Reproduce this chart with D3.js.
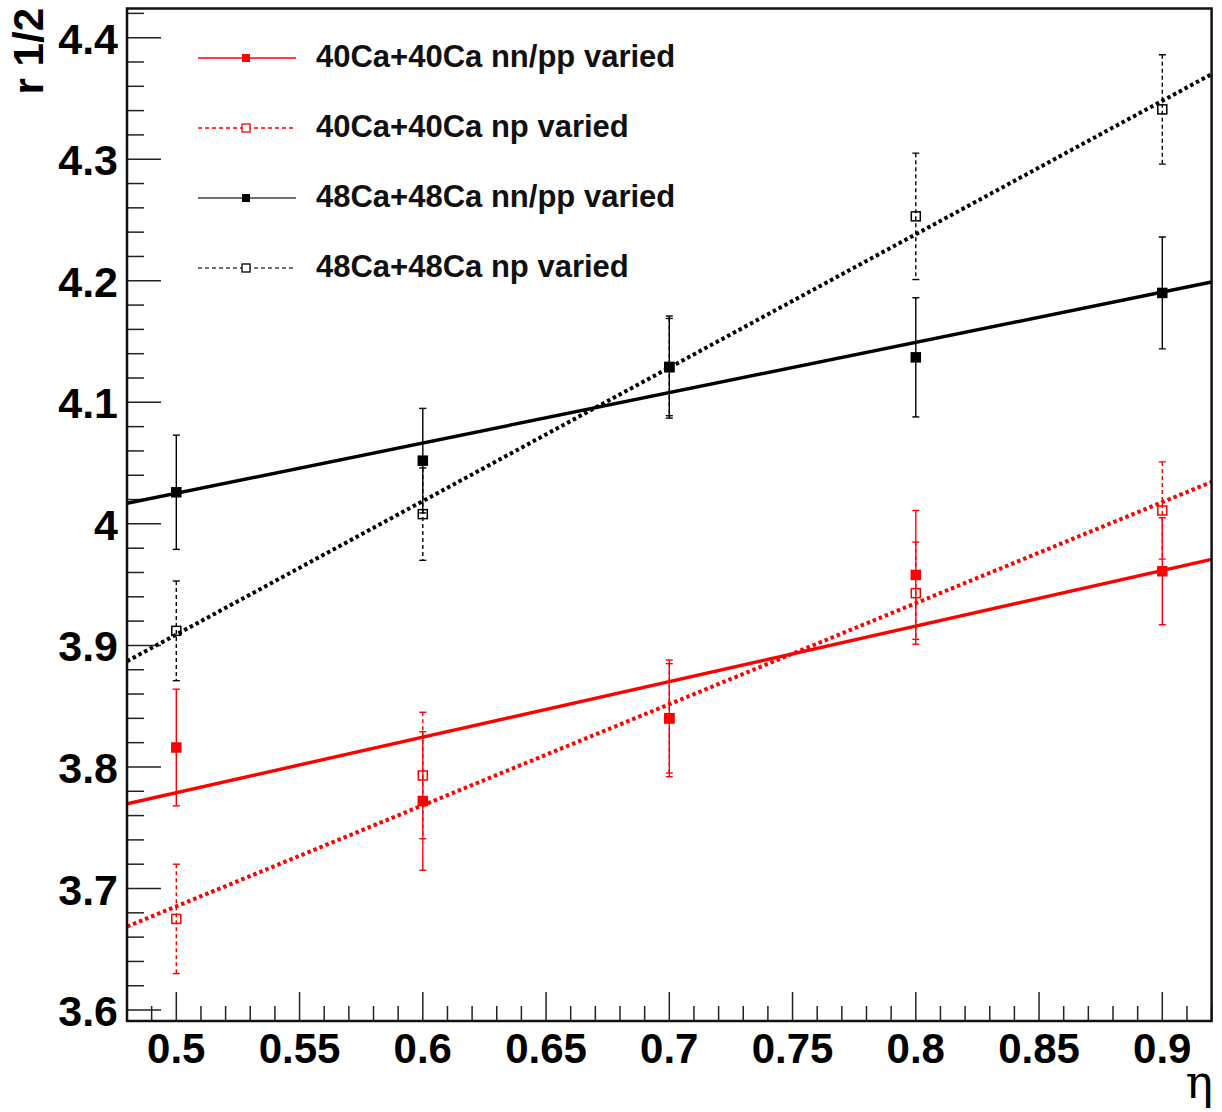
<!DOCTYPE html>
<html>
<head>
<meta charset="utf-8">
<script src="https://cdn.jsdelivr.net/npm/d3@7"></script>
<style>
  html, body { margin: 0; padding: 0; background: #fff; }
  svg { display: block; }
</style>
</head>
<body>
<svg id="chart" width="1222" height="1112"></svg>
<script>
// ---------- data ----------
const eta = [0.5, 0.6, 0.7, 0.8, 0.9];

const ca40NNPP    = [3.816, 3.772, 3.840, 3.958, 3.961];
const ca40NNPPErr = [0.048, 0.057, 0.048, 0.053, 0.044];

const ca40NP      = [3.675, 3.793, 3.840, 3.943, 4.011];
const ca40NPErr   = [0.045, 0.052, 0.045, 0.042, 0.040];

const ca48NNPP    = [4.026, 4.052, 4.129, 4.137, 4.190];
const ca48NNPPErr = [0.047, 0.043, 0.042, 0.049, 0.046];

const ca48NP      = [3.912, 4.008, 4.129, 4.253, 4.341];
const ca48NPErr   = [0.041, 0.038, 0.040, 0.052, 0.045];

// linear fit lines: value at eta = 0.48 and eta = 0.92
const fitEta      = [0.48, 0.92];
const ca40NNPPFit = [3.7697, 3.9708];
const ca40NPFit   = [3.6687, 4.0345];
const ca48NNPPFit = [4.0169, 4.1990];
const ca48NPFit   = [3.8870, 4.3700];

const seriesNames = ["40Ca+40Ca nn/pp varied", "40Ca+40Ca np varied",
                     "48Ca+48Ca nn/pp varied", "48Ca+48Ca np varied"];

const xTicks = [0.5, 0.55, 0.6, 0.65, 0.7, 0.75, 0.8, 0.85, 0.9];
const yTicks = [3.6, 3.7, 3.8, 3.9, 4.0, 4.1, 4.2, 4.3, 4.4];
const yTickLabels = ["3.6", "3.7", "3.8", "3.9", "4", "4.1", "4.2", "4.3", "4.4"];

// ---------- layout ----------
const svg = d3.select("#chart");
const L = 127, R = 1211.6, T = 8.5, B = 1021;
const x = d3.scaleLinear().domain([0.48, 0.92]).range([L, R]);
const y = d3.scaleLinear().domain([3.591, 4.424]).range([B, T]);

const series = [
  { name: seriesNames[0], v: ca40NNPP, e: ca40NNPPErr, fit: ca40NNPPFit, color: "#ff0000", open: false, dashed: false },
  { name: seriesNames[1], v: ca40NP,   e: ca40NPErr,   fit: ca40NPFit,   color: "#ff0000", open: true,  dashed: true  },
  { name: seriesNames[2], v: ca48NNPP, e: ca48NNPPErr, fit: ca48NNPPFit, color: "#000000", open: false, dashed: false },
  { name: seriesNames[3], v: ca48NP,   e: ca48NPErr,   fit: ca48NPFit,   color: "#000000", open: true,  dashed: true  }
];

const font = "'Liberation Sans', Arial, Helvetica, sans-serif";

svg.append("defs").append("clipPath").attr("id", "clip")
  .append("rect").attr("x", L).attr("y", T).attr("width", R - L).attr("height", B - T);

// ---------- axes ticks ----------
const tickColor = "#222";
const g = svg.append("g");

// x ticks
const xMinor = d3.range(48, 93).map(d => d / 100);
g.selectAll("line.xt").data(xMinor).enter().append("line")
  .attr("x1", d => x(d)).attr("x2", d => x(d))
  .attr("y1", B)
  .attr("y2", d => (Math.round(d * 100) % 5 === 0) ? B - 29 : B - 15)
  .attr("stroke", tickColor).attr("stroke-width", 1.5);

// y ticks
const yMinor = d3.range(180, 222).map(d => d / 50).filter(d => d >= 3.591 && d <= 4.424);
g.selectAll("line.yt").data(yMinor).enter().append("line")
  .attr("y1", d => y(d)).attr("y2", d => y(d))
  .attr("x1", L)
  .attr("x2", d => (Math.round(d * 50) % 5 === 0) ? L + 34 : L + 17)
  .attr("stroke", tickColor).attr("stroke-width", 1.5);

// x labels
g.selectAll("text.xl").data(xTicks).enter().append("text")
  .attr("x", d => x(d)).attr("y", 1063)
  .attr("text-anchor", "middle")
  .attr("font-family", font).attr("font-weight", "bold").attr("font-size", 42)
  .text(d => d3.format("")(d));

// y labels
g.selectAll("text.yl").data(yTicks).enter().append("text")
  .attr("x", 118).attr("y", d => y(d) + 16)
  .attr("text-anchor", "end")
  .attr("font-family", font).attr("font-weight", "bold").attr("font-size", 43)
  .text((d, i) => yTickLabels[i]);

// axis titles
svg.append("text")
  .attr("transform", "translate(43,8) rotate(-90)")
  .attr("text-anchor", "end")
  .attr("font-family", font).attr("font-weight", "bold").attr("font-size", 42)
  .text("r 1/2");

svg.append("text")
  .attr("x", 1213).attr("y", 1098)
  .attr("text-anchor", "end")
  .attr("font-family", "'DejaVu Serif', 'Liberation Serif', serif").attr("font-size", 46)
  .text("η");

// ---------- plot ----------
const plot = svg.append("g").attr("clip-path", "url(#clip)");
const ms = 10.5;

series.forEach(s => {
  // error bars
  const eg = plot.append("g");
  eta.forEach((xv, i) => {
    const x0 = x(xv), yt = y(s.v[i] + s.e[i]), yb = y(s.v[i] - s.e[i]);
    eg.append("line").attr("x1", x0).attr("x2", x0).attr("y1", yt).attr("y2", yb)
      .attr("stroke", s.color).attr("stroke-width", 1.4)
      .attr("stroke-dasharray", s.dashed ? "4,3" : null);
    [yt, yb].forEach(yy => eg.append("line")
      .attr("x1", x0 - 3.5).attr("x2", x0 + 3.5).attr("y1", yy).attr("y2", yy)
      .attr("stroke", s.color).attr("stroke-width", 1.4));
  });
});

series.forEach(s => {
  // fit line
  const line = d3.line().x(d => x(d[0])).y(d => y(d[1]));
  plot.append("path")
    .datum(fitEta.map((e, i) => [e, s.fit[i]]))
    .attr("d", line)
    .attr("fill", "none")
    .attr("stroke", s.color)
    .attr("stroke-width", s.dashed ? 4 : 3.4)
    .attr("stroke-dasharray", s.dashed ? "3.5,3" : null);
});

series.forEach(s => {
  // markers
  plot.append("g").selectAll("rect").data(eta).enter().append("rect")
    .attr("x", d => x(d) - ms / 2 + (s.open ? 0.75 : 0))
    .attr("y", (d, i) => y(s.v[i]) - ms / 2 + (s.open ? 0.75 : 0))
    .attr("width", s.open ? ms - 1.5 : ms)
    .attr("height", s.open ? ms - 1.5 : ms)
    .attr("fill", s.open ? "none" : s.color)
    .attr("stroke", s.open ? s.color : "none")
    .attr("stroke-width", 1.5);
});

// frame
svg.append("rect").attr("x", L).attr("y", T).attr("width", R - L).attr("height", B - T)
  .attr("fill", "none").attr("stroke", "#111").attr("stroke-width", 2.5);

// ---------- legend ----------
const legY = [58, 128, 198, 268];
const leg = svg.append("g");
series.forEach((s, i) => {
  const yy = legY[i];
  leg.append("line").attr("x1", 198).attr("x2", 296).attr("y1", yy).attr("y2", yy)
    .attr("stroke", s.color).attr("stroke-width", 1.5)
    .attr("stroke-opacity", s.color === "#000000" ? 0.75 : 1)
    .attr("stroke-dasharray", s.dashed ? "4,3" : null);
  const lm = 8;
  leg.append("rect")
    .attr("x", 246 - lm / 2).attr("y", yy - lm / 2).attr("width", lm).attr("height", lm)
    .attr("fill", s.open ? "#fff" : s.color)
    .attr("stroke", s.color).attr("stroke-width", s.open ? 1.3 : 0);
  leg.append("text")
    .attr("x", 316).attr("y", yy + 9)
    .attr("font-family", font).attr("font-weight", "bold").attr("font-size", 31)
    .attr("fill", "#111")
    .text(s.name);
});
</script>
</body>
</html>
